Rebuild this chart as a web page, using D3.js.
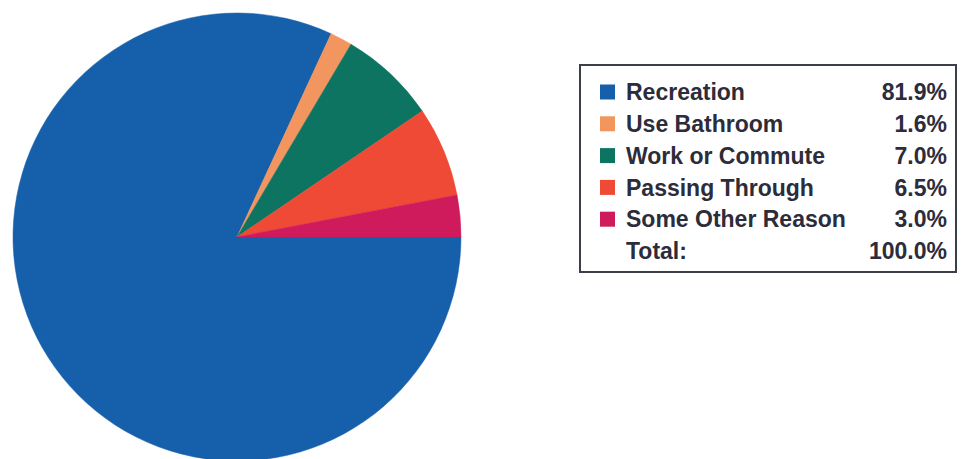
<!DOCTYPE html>
<html>
<head>
<meta charset="utf-8">
<script src="https://cdn.jsdelivr.net/npm/d3@7"></script>
<style>
  body { margin: 0; background: #fff; }
  svg { display: block; }
</style>
</head>
<body>
<svg id="chart" width="963" height="459"></svg>
<script>
const categories = ['Recreation', 'Use Bathroom', 'Work or Commute', 'Passing Through', 'Some Other Reason']
const shares = [81.9, 1.6, 7.0, 6.5, 3.0]
const totalLabel = 'Total:'
const totalValue = '100.0%'
const sliceColors = ['#1660ab', '#f2955e', '#0e7462', '#ee4a35', '#cf1a5c']

const width = 963
const height = 459
const radius = 224
const cx = 237
const cy = 237

const svg = d3.select('#chart')
  .attr('width', width)
  .attr('height', height)

const color = d3.scaleOrdinal()
  .domain(categories)
  .range(sliceColors)

const data = categories.map((c, i) => ({ name: c, value: shares[i] }))

// start at 3 o'clock, go clockwise
const pie = d3.pie()
  .sort(null)
  .value((d) => d.value)
  .startAngle(Math.PI / 2)
  .endAngle(Math.PI / 2 + 2 * Math.PI)

const arc = d3.arc()
  .innerRadius(0)
  .outerRadius(radius)

svg.append('g')
  .attr('transform', `translate(${cx},${cy})`)
  .selectAll('path')
  .data(pie(data))
  .enter().append('path')
  .attr('d', arc)
  .attr('fill', (d) => color(d.data.name))
  .attr('stroke', (d) => color(d.data.name))
  .attr('stroke-width', 0.5)

// legend box
const box = { x: 580, y: 65, w: 376, h: 207 }
const rowY = d3.scalePoint()
  .domain([...categories, totalLabel])
  .range([92, 251])

const legend = svg.append('g')

legend.append('rect')
  .attr('x', box.x)
  .attr('y', box.y)
  .attr('width', box.w)
  .attr('height', box.h)
  .attr('fill', '#fff')
  .attr('stroke', '#3b3f4a')
  .attr('stroke-width', 2)

const row = legend.selectAll('g.row')
  .data(data)
  .enter().append('g')
  .attr('class', 'row')
  .attr('transform', (d) => `translate(0,${rowY(d.name)})`)

row.append('rect')
  .attr('x', 600)
  .attr('y', -7.5)
  .attr('width', 15)
  .attr('height', 15)
  .attr('fill', (d) => color(d.name))

const textStyle = (sel) => sel
  .attr('font-family', 'Liberation Sans, Arial, sans-serif')
  .attr('font-weight', 'bold')
  .attr('font-size', 23)
  .attr('fill', '#2c2c3a')
  .attr('dy', '0.36em')

row.append('text')
  .attr('x', 626)
  .text((d) => d.name)
  .call(textStyle)

row.append('text')
  .attr('x', 947)
  .attr('text-anchor', 'end')
  .text((d) => d.value.toFixed(1) + '%')
  .call(textStyle)

const totalRow = legend.append('g')
  .attr('transform', `translate(0,${rowY(totalLabel)})`)

totalRow.append('text')
  .attr('x', 626)
  .text(totalLabel)
  .call(textStyle)

totalRow.append('text')
  .attr('x', 947)
  .attr('text-anchor', 'end')
  .text(totalValue)
  .call(textStyle)
</script>
</body>
</html>
